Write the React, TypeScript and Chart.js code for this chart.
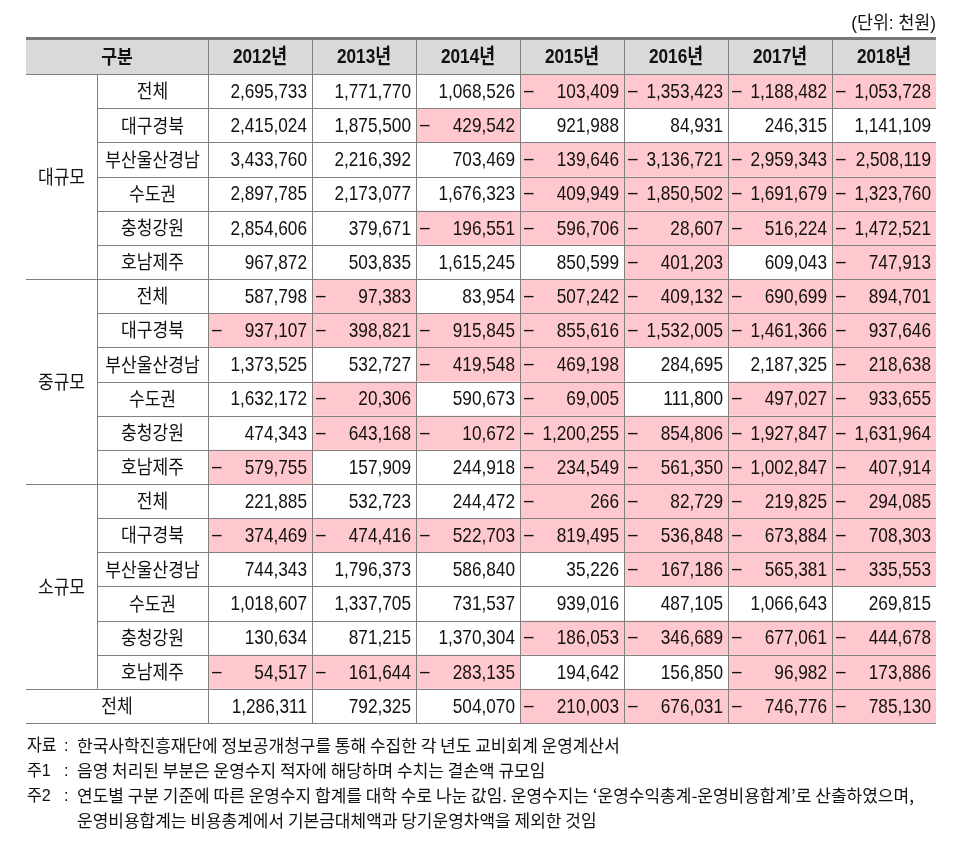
import React, { useEffect, useRef } from "react";
import { Chart, registerables } from "chart.js";
Chart.register(...registerables);

const YEARS = ["2012년", "2013년", "2014년", "2015년", "2016년", "2017년", "2018년"];
const GROUPS = ["대규모", "중규모", "소규모"];
const REGIONS = ["전체", "대구경북", "부산울산경남", "수도권", "충청강원", "호남제주"];

const LARGE = [
  [2695733, 1771770, 1068526, -103409, -1353423, -1188482, -1053728],
  [2415024, 1875500, -429542, 921988, 84931, 246315, 1141109],
  [3433760, 2216392, 703469, -139646, -3136721, -2959343, -2508119],
  [2897785, 2173077, 1676323, -409949, -1850502, -1691679, -1323760],
  [2854606, 379671, -196551, -596706, -28607, -516224, -1472521],
  [967872, 503835, 1615245, 850599, -401203, 609043, -747913],
];
const MEDIUM = [
  [587798, -97383, 83954, -507242, -409132, -690699, -894701],
  [-937107, -398821, -915845, -855616, -1532005, -1461366, -937646],
  [1373525, 532727, -419548, -469198, 284695, 2187325, -218638],
  [1632172, -20306, 590673, -69005, 111800, -497027, -933655],
  [474343, -643168, -10672, -1200255, -854806, -1927847, -1631964],
  [-579755, 157909, 244918, -234549, -561350, -1002847, -407914],
];
const SMALL = [
  [221885, 532723, 244472, -266, -82729, -219825, -294085],
  [-374469, -474416, -522703, -819495, -536848, -673884, -708303],
  [744343, 1796373, 586840, 35226, -167186, -565381, -335553],
  [1018607, 1337705, 731537, 939016, 487105, 1066643, 269815],
  [130634, 871215, 1370304, -186053, -346689, -677061, -444678],
  [-54517, -161644, -283135, 194642, 156850, -96982, -173886],
];
const TOTAL = [1286311, 792325, 504070, -210003, -676031, -746776, -785130];

const UNIT_LABEL = "(단위: 천원)";
const HEADER_LABEL = "구분";
const TOTAL_LABEL = "전체";
const NOTE_KEYS = ["자료", "주1", "주2", ""];
const NOTE_TEXTS = [
  "한국사학진흥재단에 정보공개청구를 통해 수집한 각 년도 교비회계 운영계산서",
  "음영 처리된 부분은 운영수지 적자에 해당하며 수치는 결손액 규모임",
  "연도별 구분 기준에 따른 운영수지 합계를 대학 수로 나눈 값임. 운영수지는 ‘운영수익총계-운영비용합계’로 산출하였으며,",
  "운영비용합계는 비용총계에서 기본금대체액과 당기운영차액을 제외한 것임",
];

// layout (table units)
const GROUP_W = 71;
const REGION_W = 111;
const YEAR_W = 104;
const TABLE_W = GROUP_W + REGION_W + YEAR_W * YEARS.length;
const ROW_COUNT = 1 + GROUPS.length * REGIONS.length + 1;

const PINK = "#ffc7ce";
const LINE = "#808080";
const HEAD_BG = "#d9d9d9";
const TEXT = "#111111";
const NUM_FONT = '21px "Liberation Sans", "Noto Sans CJK KR"';
const HEAD_FONT = 'bold 21px "Liberation Sans", "Noto Sans CJK KR"';
const LABEL_FONT = '19px "Noto Sans CJK KR"';
const HEAD_LABEL_FONT = 'bold 19px "Noto Sans CJK KR"';
const NOTE_FONT = '17px "Liberation Sans", "Noto Sans CJK KR"';
const NOTE_KR_FONT = '17px "Noto Sans CJK KR"';
const UNIT_FONT = '18px "Liberation Sans", "Noto Sans CJK KR"';

function txt(ctx: CanvasRenderingContext2D, s: string, x: number, y: number, align: CanvasTextAlign, font: string, sx: number) {
  ctx.save();
  ctx.font = font;
  ctx.fillStyle = TEXT;
  ctx.textAlign = align;
  ctx.textBaseline = "middle";
  ctx.translate(x, y);
  ctx.scale(sx, 1);
  ctx.fillText(s, 0, 0);
  ctx.restore();
}

const tablePlugin = {
  id: "tablePlugin",
  afterDraw(chart: any) {
    const ctx: CanvasRenderingContext2D = chart.ctx;
    const xs = chart.scales.x;
    const ys = chart.scales.y;
    const X = (u: number) => xs.getPixelForValue(u);
    const Y = (r: number) => ys.getPixelForValue(r);
    const colLeft = (j: number) => X(GROUP_W + REGION_W + YEAR_W * j);
    const colRight = (j: number) => X(GROUP_W + REGION_W + YEAR_W * (j + 1));
    const left = X(0);
    const right = X(TABLE_W);
    const top = Y(0);
    const bottom = Y(ROW_COUNT);
    const crisp = (v: number) => Math.round(v) + 0.5;

    const rows: { group: number; region: number; values: number[] }[] = [];
    [LARGE, MEDIUM, SMALL].forEach((tbl, g) => tbl.forEach((vals, r) => rows.push({ group: g, region: r, values: vals })));
    rows.push({ group: -1, region: -1, values: TOTAL });

    ctx.save();
    ctx.fillStyle = HEAD_BG;
    ctx.fillRect(left, top, right - left, Y(1) - top);
    ctx.fillStyle = "#767676";
    ctx.fillRect(left, top - 3, right - left, 3);

    ctx.fillStyle = PINK;
    rows.forEach((row, i) => {
      row.values.forEach((v, j) => {
        if (v < 0) {
          const x0 = colLeft(j), x1 = colRight(j);
          ctx.fillRect(x0, Y(i + 1), x1 - x0, Y(i + 2) - Y(i + 1));
        }
      });
    });

    ctx.strokeStyle = LINE;
    ctx.lineWidth = 1;
    const hline = (y: number, x0: number, x1: number) => {
      ctx.beginPath();
      ctx.moveTo(x0, crisp(y));
      ctx.lineTo(x1, crisp(y));
      ctx.stroke();
    };
    const vline = (x: number, y0: number, y1: number) => {
      ctx.beginPath();
      ctx.moveTo(crisp(x), y0);
      ctx.lineTo(crisp(x), y1);
      ctx.stroke();
    };
    hline(Y(1), left, right);
    for (let i = 1; i < rows.length; i++) {
      const prev = rows[i - 1];
      const isGroupBoundary = prev.region === REGIONS.length - 1;
      hline(Y(i + 1), isGroupBoundary ? left : X(GROUP_W), right);
    }
    hline(bottom, left, right);
    vline(X(GROUP_W), Y(1), Y(ROW_COUNT - 1));
    for (let j = 0; j < YEARS.length; j++) vline(colLeft(j), top, bottom);
    ctx.restore();

    const hy = (Y(0) + Y(1)) / 2;
    txt(ctx, HEADER_LABEL, (X(0) + X(GROUP_W + REGION_W)) / 2, hy, "center", HEAD_LABEL_FONT, 0.9);
    YEARS.forEach((yr, j) => txt(ctx, yr, (colLeft(j) + colRight(j)) / 2, hy, "center", HEAD_FONT, 0.82));

    GROUPS.forEach((g, gi) => {
      const r0 = 1 + gi * REGIONS.length;
      const cy = (Y(r0) + Y(r0 + REGIONS.length)) / 2;
      txt(ctx, g, (X(0) + X(GROUP_W)) / 2, cy, "center", LABEL_FONT, 0.9);
    });

    rows.forEach((row, i) => {
      const cy = (Y(i + 1) + Y(i + 2)) / 2;
      if (row.region >= 0) {
        txt(ctx, REGIONS[row.region], (X(GROUP_W) + X(GROUP_W + REGION_W)) / 2, cy, "center", LABEL_FONT, 0.9);
      } else {
        txt(ctx, TOTAL_LABEL, (X(0) + X(GROUP_W + REGION_W)) / 2, cy, "center", LABEL_FONT, 0.9);
      }
      row.values.forEach((v, j) => {
        const s = Math.abs(v).toLocaleString("en-US");
        txt(ctx, s, colRight(j) - 5, cy + 1, "right", NUM_FONT, 0.82);
        if (v < 0) txt(ctx, "–", colLeft(j) + 4, cy, "left", NUM_FONT, 0.82);
      });
    });

    txt(ctx, UNIT_LABEL, right, top - 16, "right", UNIT_FONT, 0.96);

    NOTE_TEXTS.forEach((t, k) => {
      const ny = bottom + 23 + k * 25;
      if (NOTE_KEYS[k]) {
        txt(ctx, NOTE_KEYS[k], left + 1, ny, "left", NOTE_FONT, 0.95);
        txt(ctx, ":", left + 38, ny, "left", NOTE_FONT, 0.95);
      }
      txt(ctx, t, left + 51, ny, "left", NOTE_KR_FONT, 1.0);
    });
  },
};

export default function App() {
  const ref = useRef<HTMLCanvasElement | null>(null);
  useEffect(() => {
    if (!ref.current) return;
    const chart = new Chart(ref.current, {
      type: "scatter",
      data: { datasets: [] },
      options: {
        animation: false,
        responsive: true,
        maintainAspectRatio: false,
        layout: { padding: { left: 26, right: 19, top: 40, bottom: 126 } },
        plugins: { legend: { display: false }, tooltip: { enabled: false } },
        scales: {
          x: { type: "linear", min: 0, max: TABLE_W, display: false },
          y: { type: "linear", min: 0, max: ROW_COUNT, reverse: true, display: false },
        },
      },
      plugins: [tablePlugin],
    });
    return () => chart.destroy();
  }, []);
  return (
    <div style={{ position: "fixed", left: 0, top: 0, width: 955, height: 849, background: "#fff" }}>
      <canvas ref={ref} />
    </div>
  );
}
